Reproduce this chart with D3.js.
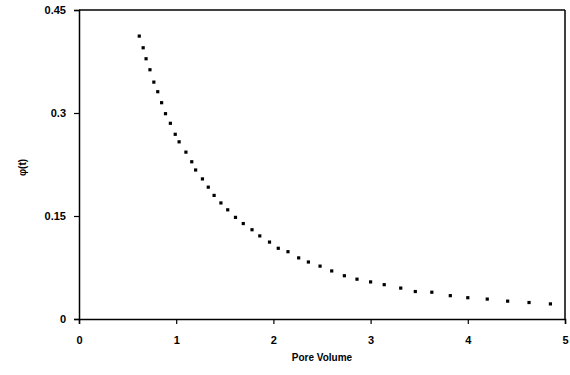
<!DOCTYPE html>
<html>
<head>
<meta charset="utf-8">
<script src="https://cdn.jsdelivr.net/npm/d3@7"></script>
<style>
  body { margin: 0; background: #fff; }
  text { font-family: "Liberation Sans", Arial, sans-serif; font-weight: bold; fill: #000; }
</style>
</head>
<body>
<svg id="chart" width="570" height="375"></svg>
<script>
// pore volume vs phi(t)
var poreVolume = [0.62, 0.66, 0.69, 0.73, 0.77, 0.81, 0.85, 0.89, 0.94, 0.99,
  1.03, 1.10, 1.16, 1.20, 1.27, 1.33, 1.39, 1.46, 1.53, 1.61,
  1.69, 1.78, 1.86, 1.96, 2.05, 2.15, 2.26, 2.36, 2.48, 2.60,
  2.73, 2.86, 3.00, 3.14, 3.31, 3.46, 3.63, 3.82, 4.00, 4.20,
  4.41, 4.63, 4.85];
var phi = [0.412, 0.395, 0.379, 0.363, 0.345, 0.331, 0.315, 0.299, 0.285, 0.269,
  0.258, 0.243, 0.229, 0.217, 0.204, 0.192, 0.180, 0.169, 0.159, 0.148,
  0.139, 0.130, 0.121, 0.112, 0.103, 0.098, 0.089, 0.083, 0.077, 0.070,
  0.063, 0.058, 0.054, 0.050, 0.045, 0.040, 0.039, 0.034, 0.031, 0.029,
  0.026, 0.024, 0.022];
var xTicks = [0, 1, 2, 3, 4, 5];
var yTicks = [0, 0.15, 0.3, 0.45];
var yTickLabels = ["0", "0.15", "0.3", "0.45"];

var svg = d3.select("#chart");
var margin = {top: 10, right: 5, bottom: 56, left: 79};
var width = +svg.attr("width") - margin.left - margin.right;
var height = +svg.attr("height") - margin.top - margin.bottom;
var g = svg.append("g").attr("transform", "translate(" + margin.left + "," + margin.top + ")");

var x = d3.scaleLinear().domain([0, 5]).range([0, width]);
var y = d3.scaleLinear().domain([0, 0.45]).range([height, 0]);

// frame: top and right
g.append("line")
  .attr("x1", 0).attr("x2", width).attr("y1", 0).attr("y2", 0)
  .attr("stroke", "#000").attr("stroke-width", 1.5);
g.append("line")
  .attr("x1", width).attr("x2", width).attr("y1", 0).attr("y2", height)
  .attr("stroke", "#000").attr("stroke-width", 1.5);

var xAxis = g.append("g")
  .attr("transform", "translate(0," + height + ")")
  .call(d3.axisBottom(x).tickValues(xTicks).tickFormat(d3.format("d")).tickSize(5).tickPadding(12));

var yAxis = g.append("g")
  .call(d3.axisLeft(y).tickValues(yTicks).tickFormat(function(d, i) { return yTickLabels[i]; }).tickSize(5).tickPadding(8));

[xAxis, yAxis].forEach(function(a) {
  a.select(".domain").attr("stroke", "#000").attr("stroke-width", 1.5);
  a.selectAll(".tick line").attr("stroke", "#000").attr("stroke-width", 1.2);
  a.selectAll("text").style("font-size", "11px").style("font-weight", "bold")
    .style("font-family", "'Liberation Sans', Arial, sans-serif");
});

// markers
g.selectAll(".pt")
  .data(poreVolume.map(function(v, i) { return {x: v, y: phi[i]}; }))
  .enter().append("rect")
  .attr("class", "pt")
  .attr("x", function(d) { return x(d.x) - 1.6; })
  .attr("y", function(d) { return y(d.y) - 1.6; })
  .attr("width", 3.2)
  .attr("height", 3.2)
  .attr("fill", "#000");

// axis titles
svg.append("text")
  .attr("x", margin.left + width / 2)
  .attr("y", 361)
  .attr("text-anchor", "middle")
  .style("font-size", "10px")
  .text("Pore Volume");

svg.append("text")
  .attr("transform", "translate(26," + (margin.top + height / 2 + 3) + ") rotate(-90)")
  .attr("text-anchor", "middle")
  .style("font-size", "10px")
  .text("φ(t)");
</script>
</body>
</html>
